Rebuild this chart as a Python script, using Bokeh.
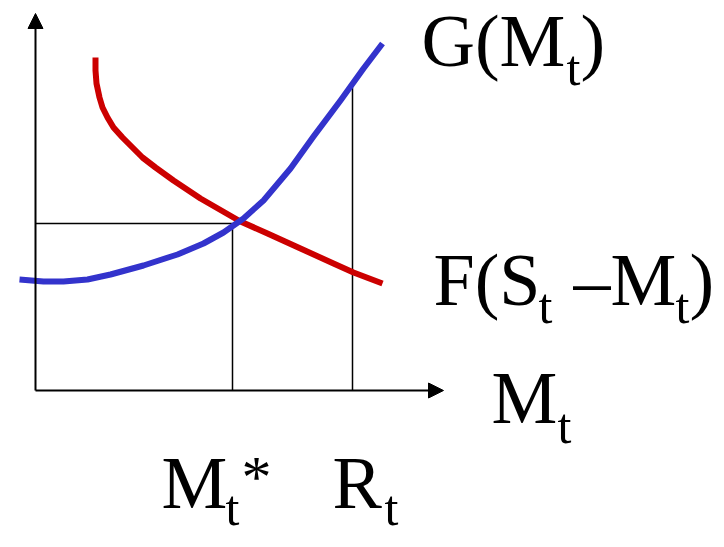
from bokeh.plotting import figure
from bokeh.models import Range1d, Arrow, NormalHead, ColumnDataSource
from bokeh.core.properties import value
from bokeh.embed import file_html
from bokeh.resources import INLINE

# ---- data (abstract units: origin at the axes corner) ----
g_x = [-16, 8, 28, 52, 75, 108, 142, 168, 188, 208, 228, 255, 278, 305, 328, 347]
g_y = [111, 109, 109, 111, 116, 125, 136, 147, 158, 172, 190, 222, 254, 290, 322, 347]

f_x = [60, 60, 61, 64, 67, 72, 78, 87, 97, 107, 120, 138, 165, 198, 205, 232, 265, 298, 318, 347]
f_y = [333, 320, 307, 293, 283, 273, 263, 253, 243, 233, 223, 210, 192, 173, 169, 157, 142, 127, 118, 107]

m_star = 197      # equilibrium M_t*
g_star = 167      # level at M_t*
r_t = 317         # R_t
g_r = 303         # G(R_t)
x_axis_end = 408
y_axis_end = 377

# label texts
lbl_g = ["G(M", "t", ")"]
lbl_f = ["F(S", "t", "\u2013M", "t", ")"]
lbl_m = ["M", "t"]
lbl_mstar = ["M", "t", "*"]
lbl_r = ["R", "t"]

W, H = 716, 539
p = figure(width=W, height=H, output_backend="svg", toolbar_location=None,
           x_range=Range1d(-35, -35 + W), y_range=Range1d(390 - H, 390),
           x_axis_type=None, y_axis_type=None, min_border=0,
           outline_line_color=None, background_fill_color="white",
           border_fill_color="white")
p.grid.visible = False

# guide lines
p.line([0, m_star], [g_star, g_star], line_color="black", line_width=1.5)
p.line([m_star, m_star], [0, g_star], line_color="black", line_width=1.5)
p.line([r_t, r_t], [0, g_r], line_color="black", line_width=1.5)

# axes with arrows
p.add_layout(Arrow(end=NormalHead(size=15, fill_color="black", line_color="black"),
                   x_start=0, y_start=0, x_end=0, y_end=y_axis_end,
                   line_color="black", line_width=2))
p.add_layout(Arrow(end=NormalHead(size=15, fill_color="black", line_color="black"),
                   x_start=0, y_start=0, x_end=x_axis_end, y_end=0,
                   line_color="black", line_width=2))

# curves
p.line(f_x, f_y, line_color="#CC0000", line_width=6, line_join="round")
p.line(g_x, g_y, line_color="#3333CC", line_width=6, line_join="round")

# labels
BIG, SUB = "74px", "50px"
def place(texts, xs, ys, sizes):
    src = ColumnDataSource(dict(x=xs, y=ys, text=texts, size=sizes))
    p.text(x="x", y="y", text="text", source=src, text_font=value("Liberation Serif"),
           text_font_size="size", text_color="black",
           text_align="left", text_baseline="alphabetic")

place(lbl_g, [386, 531, 545], [350, 323, 350], [BIG, SUB, BIG])
place(lbl_f, [398, 503, 538, 640, 654], [111, 85, 111, 85, 111], [BIG, SUB, BIG, SUB, BIG])
place(lbl_m, [456, 522], [-7, -35], [BIG, SUB])
place(lbl_mstar, [126, 190, 206], [-92, -117, -86], [BIG, SUB, "60px"])
place(lbl_r, [297, 349], [-92, -117], [BIG, SUB])

open("out.html", "w").write(file_html(p, INLINE))
